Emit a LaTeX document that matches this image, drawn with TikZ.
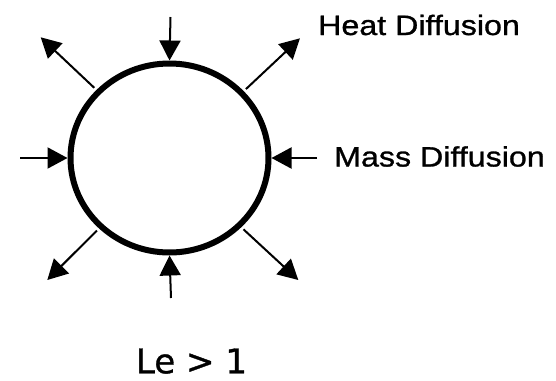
\documentclass[tikz,border=0pt]{standalone}
\usepackage{fontspec}
\usetikzlibrary{arrows.meta,shapes.geometric}
\newfontfamily\diffont[FakeStretch=1.15,FakeBold=1]{Liberation Sans}
\newfontfamily\lefont[FakeBold=1]{DejaVu Sans}

\begin{document}
\begin{tikzpicture}[x=1pt, y=-1pt,
  % ── droplet outline ──
  drop/.style={ellipse, draw=black, line width=6pt, minimum width=198pt,
               minimum height=189pt, inner sep=0pt},
  % ── arrows ──
  arr/.style={-{Triangle[length=20pt,width=21pt]}, line width=2pt, black},
  % ── labels ──
  lbl/.style={font=\diffont\fontsize{28}{32}\selectfont, inner sep=0pt,
              anchor=base west},
]

%% ─── frame (image is 556 x 380, y downwards) ───────────────────
\useasboundingbox (0,0) rectangle (556,380);

%% ─── 1. Droplet ────────────────────────────────────────────────
\node[drop] (Drop) at (169.5,158) {};

%% ─── 2. Inward arrows (mass diffusion) ─────────────────────────
\coordinate (Nin) at (170.5,17);
\coordinate (Win) at (20,158);
\coordinate (Ein) at (317,158);
\coordinate (Sin) at (171,298);
\draw[arr] (Nin) -- (Drop.north);
\draw[arr] (Win) -- (Drop.west);
\draw[arr] (Ein) -- (Drop.east);
\draw[arr] (Sin) -- (Drop.south);

%% ─── 3. Outward arrows (heat diffusion) ────────────────────────
\coordinate (NWout) at (40.7,37.3);
\coordinate (NEout) at (300,38.3);
\coordinate (SWout) at (47.3,280);
\coordinate (SEout) at (298.3,280);
\foreach \ang/\tip in {137/NWout, 42/NEout, 225/SWout, 316/SEout}{
  \draw[arr, shorten <=3pt] (Drop.\ang) -- (\tip);
}

%% ─── 4. Labels ─────────────────────────────────────────────────
\node[lbl] (heat) at (318,35) {Heat Diffusion};
\node[lbl] (mass) at (334,166.5) {Mass Diffusion};
\node[font=\lefont\fontsize{34}{40}\selectfont, inner sep=0pt, anchor=base]
      (lewis) at (191.5,373.3) {Le > 1};

\end{tikzpicture}
\end{document}
